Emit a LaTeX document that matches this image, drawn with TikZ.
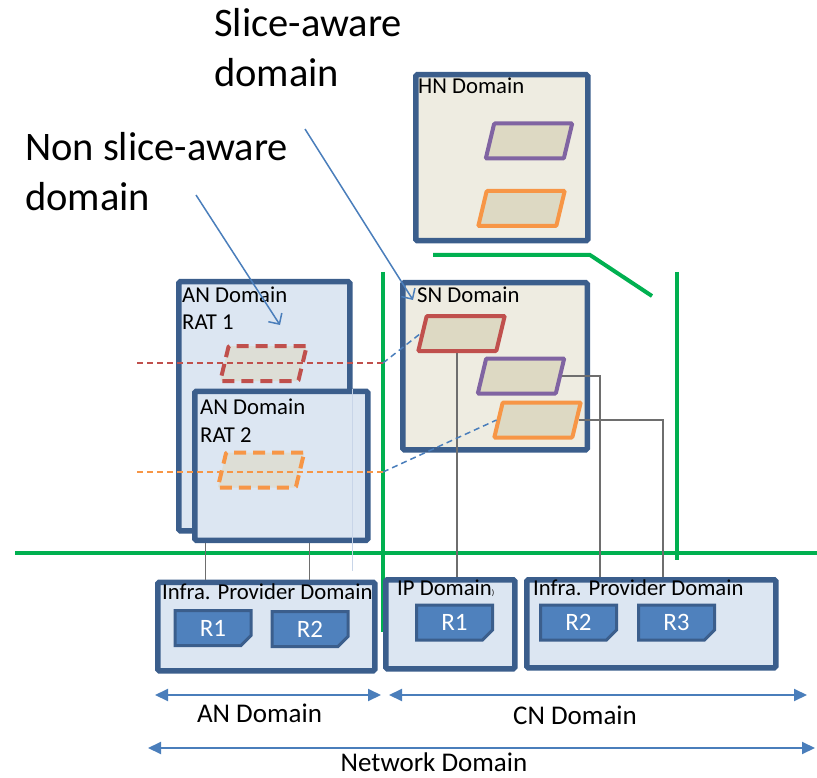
\documentclass[tikz,border=0pt]{standalone}
\usepackage{fontspec}
\setmainfont{Carlito}
\usetikzlibrary{arrows.meta,shapes.misc}

\definecolor{boxline}{HTML}{3B5E8C}
\definecolor{anfill}{HTML}{DCE6F2}
\definecolor{snfill}{HTML}{EEECE1}
\definecolor{parfill}{HTML}{DDD9C3}
\definecolor{slred}{HTML}{C0504D}
\definecolor{slpurple}{HTML}{8064A2}
\definecolor{slorange}{HTML}{F79646}
\definecolor{netgreen}{HTML}{00B050}
\definecolor{pointblue}{HTML}{4A7EBB}
\definecolor{rfill}{HTML}{4F81BD}
\definecolor{linkgray}{HTML}{6E6E6E}
\definecolor{ghostline}{HTML}{C8D5E8}

\tikzset{
  dombox/.style={draw=boxline, line width=5.5, rounded corners=1.5, anchor=north west, inner sep=0},
  anbox/.style={dombox, fill=anfill},
  snbox/.style={dombox, fill=snfill},
  slicebox/.style={rectangle, xslant=0.24, transform shape, minimum width=78, minimum height=35,
    inner sep=0, line width=4, fill=parfill, rounded corners=1},
  rbox/.style={chamfered rectangle, chamfered rectangle corners=south east,
    chamfered rectangle xsep=5pt, chamfered rectangle ysep=5pt, draw=boxline, line width=3,
    fill=rfill, text=white, minimum width=76, minimum height=35, inner sep=0,
    font=\fontsize{25}{30}\selectfont},
  domtext/.style={anchor=base west, inner sep=0, align=left, font=\fontsize{22.7}{28}\selectfont},
  bigtext/.style={anchor=base west, inner sep=0, align=left, font=\fontsize{40.5}{50}\selectfont},
  spantext/.style={anchor=base, inner sep=0, font=\fontsize{27}{32}\selectfont},
  netline/.style={netgreen, line width=4},
  link/.style={linkgray, line width=1.5},
  pointer/.style={pointblue, line width=1.5, -{Straight Barb[length=8,width=16]}},
  span/.style={pointblue, line width=2, {Triangle[length=13,width=12]}-{Triangle[length=13,width=12]}},
  sliceline/.style={line width=1.5, dash pattern=on 6pt off 4pt},
}

\begin{document}
\begin{tikzpicture}[x=1pt,y=-1pt]
\useasboundingbox (0,0) rectangle (817,778);

% callout texts (base = last line)
\node[bigtext] (slicetxt) at (214,87) {Slice-aware\\domain};
\node[bigtext] (nonslicetxt) at (25,211) {Non slice-aware\\domain};

% green borders
\draw[netline] (15,553) -- (817,553);
\draw[netline] (383,272) -- (383,632);
\draw[netline] (677,272) -- (677,560);
\draw[netline] (433,255) -- (590,255) -- (652,296);

% HN domain
\node[snbox, minimum width=172, minimum height=166] (hn) at (413,72) {};
\node[domtext] (hntxt) at (418,94) {HN Domain};
\node[slicebox, draw=slpurple] (hnpurple) at (529,141) {};
\node[slicebox, draw=slorange] (hnorange) at (521.5,208.5) {};

% AN domains
\node[anbox, minimum width=171, minimum height=249] (rat1) at (176,279) {};
\node[domtext] (rat1txt) at (182,330) {AN Domain\\RAT 1};
\node[slicebox, draw=slred, dash pattern=on 12pt off 7pt, fill=parfill!60!anfill] (anred) at (263.5,363.5) {};
\node[anbox, minimum width=173, minimum height=149] (rat2) at (192,388.5) {};
\node[domtext] (rat2txt) at (200,442) {AN Domain\\RAT 2};
\node[slicebox, draw=slorange, dash pattern=on 12pt off 7pt, fill=parfill!60!anfill] (anorange) at (261,470) {};
\draw[ghostline, line width=1.5] (rat1.east |- rat2.north) -- ++(0,182);

% SN domain
\node[snbox, minimum width=184.5, minimum height=167] (sn) at (400,280) {};
\node[domtext] (sntxt) at (417,302) {SN Domain};

% infrastructure
\node[anbox, minimum width=217, minimum height=88.5] (ipl) at (155,579.5) {};
\node[domtext] (ipltxt) at (162,599) {Infra. Provider Domain};
\node[rbox] (lr1) at (213,628) {R1};
\node[rbox] (lr2) at (310,629) {R2};

\node[anbox, minimum width=129, minimum height=89] (ipd) at (383,577) {};
\node[domtext] (ipdtxt) at (397,595) {IP Domain{\fontsize{8}{8}\selectfont)}};
\node[rbox] (mr1) at (454.5,622.5) {R1};

\node[anbox, minimum width=249, minimum height=88] (ipr) at (524,577) {};
\node[domtext] (iprtxt) at (533,595) {Infra. Provider Domain};
\node[rbox] (rr2) at (578.5,622.5) {R2};
\node[rbox] (rr3) at (676.5,622.5) {R3};

% connectors
\coordinate (d1) at ([xshift=13.5]rat2.south west);
\coordinate (d2) at ([xshift=117.5]rat2.south west);
\draw[link] (d1) -- (d1 |- ipl.north);
\draw[link] (d2) -- (d2 |- ipl.north);

\node[slicebox, draw=slred] (snred) at (461.5,333.5) {};
\node[slicebox, draw=slpurple] (snpurple) at (521,376) {};
\node[slicebox, draw=slorange] (snorange) at (537.5,420) {};
\draw[link] (snred.south) -- (snred.south |- ipd.north);
\draw[link] (snpurple.east) -| ([xshift=76]ipr.north west);
\draw[link] (snorange.east) -| ([xshift=139]ipr.north west);

% slice lines
\coordinate (redstart) at (137,363);
\coordinate (redgap) at (383,363);
\coordinate (orangestart) at (137,472);
\coordinate (orangegap) at (383,472);
\draw[sliceline, slred] (redstart) -- (redgap);
\draw[sliceline, pointblue] (redgap) -- (snred.west);
\draw[sliceline, slorange] (orangestart) -- (orangegap);
\draw[sliceline, pointblue] (orangegap) -- (snorange.west);

% callout arrows
\coordinate (slicetail) at (305,129);
\coordinate (nonslicetail) at (196,195);
\draw[pointer] (slicetail) -- ([shift={(13,20)}]sn.north west);
\draw[pointer] (nonslicetail) -- ([shift={(104,46)}]rat1.north west);

% domain spans
\coordinate (anl) at (155,695);
\coordinate (anr) at (381,695);
\coordinate (cnl) at (389,695);
\coordinate (cnr) at (807,695);
\coordinate (netl) at (148,748);
\coordinate (netr) at (815,748);
\draw[span] (anl) -- (anr);
\draw[span] (cnl) -- (cnr);
\draw[span] (netl) -- (netr);
\node[spantext] (antxt) at (259.5,722) {AN Domain};
\node[spantext] (cntxt) at (575,724) {CN Domain};
\node[spantext] (nettxt) at (434,771) {Network Domain};
\end{tikzpicture}
\end{document}
